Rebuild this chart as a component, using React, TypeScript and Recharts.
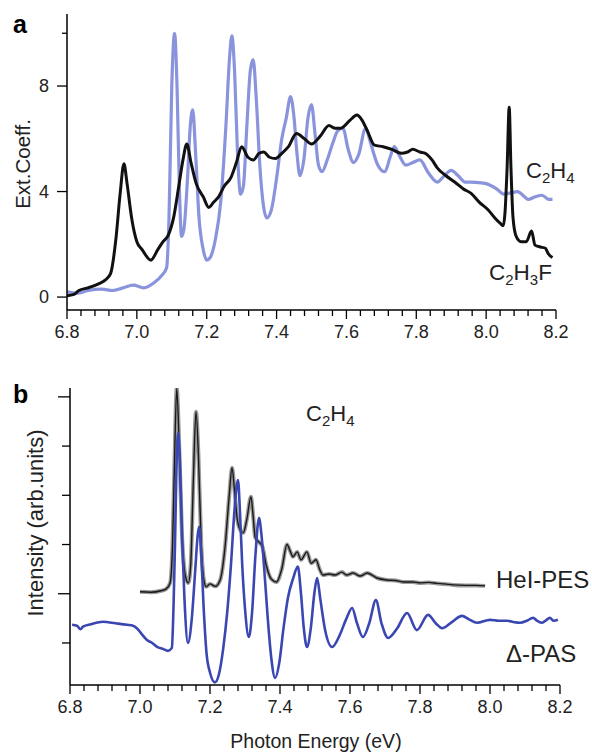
import React from 'react';
import { LineChart, Line, XAxis, YAxis } from 'recharts';

// ---------- Panel a: extinction coefficient ----------
const A_C2H4_E = [6.80, 6.83, 6.86, 6.90, 6.93, 6.96, 6.99, 7.02, 7.05, 7.07, 7.085, 7.092, 7.10, 7.108, 7.115, 7.122, 7.128, 7.135, 7.145, 7.153, 7.16, 7.168, 7.178, 7.19, 7.20, 7.21, 7.225, 7.24, 7.255, 7.265, 7.272, 7.28, 7.288, 7.297, 7.305, 7.315, 7.325, 7.333, 7.342, 7.352, 7.362, 7.372, 7.385, 7.40, 7.415, 7.428, 7.44, 7.45, 7.458, 7.467, 7.478, 7.49, 7.50, 7.51, 7.52, 7.53, 7.545, 7.56, 7.575, 7.59, 7.605, 7.62, 7.635, 7.655, 7.67, 7.69, 7.71, 7.725, 7.737, 7.75, 7.77, 7.79, 7.81, 7.835, 7.86, 7.88, 7.90, 7.92, 7.94, 7.97, 8.00, 8.03, 8.05, 8.07, 8.09, 8.11, 8.12, 8.14, 8.16, 8.18, 8.19];
const A_C2H4_V = [0.2, 0.15, 0.25, 0.3, 0.25, 0.35, 0.45, 0.35, 0.55, 0.8, 1.1, 3.0, 8.0, 10.0, 8.0, 4.0, 2.3, 2.6, 4.5, 6.5, 7.1, 5.5, 3.0, 1.8, 1.4, 1.5, 2.2, 3.6, 6.5, 9.0, 9.9, 8.5, 5.5, 3.9, 4.2, 6.5, 8.6, 9.0, 7.5, 5.0, 3.5, 3.0, 3.3, 4.5, 6.0, 6.8, 7.6, 6.8, 5.5, 4.6, 5.2, 6.8, 7.3, 6.2, 5.0, 4.75, 5.2, 5.8, 6.3, 6.4, 5.6, 5.1, 5.4, 6.4, 5.8, 5.0, 4.75, 5.3, 5.7, 5.4, 5.0, 5.1, 5.2, 4.7, 4.36, 4.6, 4.8, 4.6, 4.36, 4.35, 4.3, 4.1, 3.9, 3.95, 4.0, 3.8, 3.7, 3.8, 3.86, 3.7, 3.7];

const A_C2H3F_E = [6.80, 6.82, 6.834, 6.86, 6.89, 6.91, 6.925, 6.94, 6.952, 6.963, 6.972, 6.985, 7.00, 7.015, 7.04, 7.06, 7.075, 7.09, 7.105, 7.12, 7.132, 7.143, 7.155, 7.17, 7.19, 7.206, 7.22, 7.234, 7.25, 7.27, 7.285, 7.30, 7.318, 7.334, 7.35, 7.363, 7.38, 7.397, 7.415, 7.434, 7.457, 7.48, 7.50, 7.525, 7.55, 7.568, 7.583, 7.61, 7.63, 7.645, 7.66, 7.68, 7.705, 7.73, 7.757, 7.775, 7.79, 7.81, 7.826, 7.845, 7.86, 7.885, 7.91, 7.935, 7.957, 7.98, 8.006, 8.025, 8.04, 8.049, 8.054, 8.06, 8.066, 8.071, 8.077, 8.086, 8.10, 8.115, 8.13, 8.14, 8.155, 8.17, 8.177, 8.19];
const A_C2H3F_V = [0.05, 0.1, 0.25, 0.35, 0.5, 0.65, 0.9, 2.2, 3.9, 5.05, 4.3, 3.0, 2.1, 1.8, 1.4, 1.8, 2.1, 2.35, 3.0, 4.2, 5.2, 5.8, 5.1, 4.3, 3.8, 3.4, 3.6, 3.8, 4.2, 4.55, 5.1, 5.7, 5.3, 5.2, 5.45, 5.5, 5.3, 5.25, 5.45, 5.7, 6.2, 6.0, 5.8, 6.1, 6.5, 6.4, 6.4, 6.7, 6.9, 6.7, 6.3, 5.76, 5.7, 5.6, 5.45, 5.5, 5.6, 5.5, 5.45, 5.2, 4.9, 4.6, 4.36, 4.1, 3.93, 3.6, 3.3, 3.0, 2.8, 2.7, 3.2, 4.9, 7.2, 4.9, 3.0, 2.3, 2.1, 2.1, 2.5, 1.97, 1.9, 1.85, 1.66, 1.5];

// ---------- Panel b: intensity ----------
const B_PES_E = [7.00, 7.03, 7.06, 7.075, 7.086, 7.093, 7.098, 7.105, 7.112, 7.12, 7.13, 7.138, 7.145, 7.152, 7.16, 7.167, 7.175, 7.182, 7.189, 7.20, 7.215, 7.229, 7.243, 7.255, 7.263, 7.27, 7.277, 7.286, 7.295, 7.305, 7.317, 7.323, 7.329, 7.34, 7.35, 7.36, 7.375, 7.39, 7.405, 7.42, 7.43, 7.437, 7.449, 7.46, 7.477, 7.489, 7.503, 7.513, 7.523, 7.54, 7.557, 7.577, 7.59, 7.609, 7.629, 7.649, 7.677, 7.705, 7.73, 7.752, 7.78, 7.80, 7.825, 7.849, 7.87, 7.894, 7.93, 7.96, 7.986];
const B_PES_V = [1.04, 1.03, 1.06, 1.1, 1.22, 2.0, 3.5, 5.18, 4.0, 2.2, 1.35, 1.22, 1.6, 3.2, 4.7, 3.8, 2.0, 1.3, 1.14, 1.2, 1.15, 1.28, 1.95, 3.0, 3.56, 3.1, 2.56, 2.3, 2.24, 2.5, 2.97, 2.6, 2.15, 2.05, 1.95, 1.6, 1.3, 1.24, 1.5, 2.0, 1.85, 1.75, 1.85, 1.69, 1.85, 1.62, 1.69, 1.5, 1.38, 1.4, 1.38, 1.44, 1.38, 1.42, 1.36, 1.42, 1.32, 1.28, 1.27, 1.24, 1.24, 1.22, 1.23, 1.21, 1.2, 1.18, 1.17, 1.17, 1.16];

const B_PAS_E = [6.806, 6.82, 6.83, 6.837, 6.86, 6.894, 6.93, 6.963, 6.98, 6.991, 7.005, 7.02, 7.035, 7.049, 7.065, 7.08, 7.091, 7.096, 7.10, 7.104, 7.109, 7.115, 7.12, 7.127, 7.137, 7.148, 7.158, 7.165, 7.169, 7.175, 7.182, 7.19, 7.20, 7.214, 7.225, 7.238, 7.249, 7.26, 7.27, 7.28, 7.286, 7.292, 7.30, 7.311, 7.32, 7.33, 7.34, 7.347, 7.355, 7.365, 7.375, 7.386, 7.398, 7.41, 7.423, 7.437, 7.451, 7.46, 7.468, 7.477, 7.488, 7.498, 7.506, 7.515, 7.529, 7.549, 7.57, 7.59, 7.606, 7.62, 7.637, 7.655, 7.674, 7.69, 7.709, 7.735, 7.763, 7.791, 7.823, 7.845, 7.863, 7.89, 7.92, 7.94, 7.963, 8.00, 8.025, 8.049, 8.07, 8.086, 8.105, 8.123, 8.135, 8.149, 8.16, 8.171, 8.182, 8.194];
const B_PAS_V = [0.37, 0.35, 0.28, 0.33, 0.38, 0.43, 0.4, 0.37, 0.35, 0.3, 0.18, 0.06, 0.0, -0.08, -0.12, -0.16, -0.1, 0.8, 2.0, 3.5, 4.27, 3.5, 2.2, 0.9, 0.0, 0.5, 1.5, 2.2, 2.36, 1.8, 0.7, -0.2, -0.6, -0.8, -0.65, -0.1, 0.61, 1.6, 2.7, 3.31, 2.6, 1.6, 0.7, 0.12, 0.6, 1.8, 2.54, 2.2, 1.5, 0.5, -0.3, -0.71, -0.4, 0.3, 0.93, 1.3, 1.55, 1.0, 0.3, -0.08, 0.3, 1.0, 1.32, 0.9, 0.26, -0.08, 0.15, 0.5, 0.71, 0.4, 0.12, 0.4, 0.87, 0.4, 0.1, 0.3, 0.61, 0.26, 0.57, 0.4, 0.3, 0.42, 0.55, 0.48, 0.41, 0.47, 0.45, 0.45, 0.42, 0.41, 0.45, 0.51, 0.45, 0.41, 0.46, 0.51, 0.45, 0.47];

// ---------- ticks ----------
const X_TICKS = [6.8, 6.84, 6.88, 6.92, 6.96, 7.0, 7.04, 7.08, 7.12, 7.16, 7.2, 7.24, 7.28, 7.32, 7.36, 7.4, 7.44, 7.48, 7.52, 7.56, 7.6, 7.64, 7.68, 7.72, 7.76, 7.8, 7.84, 7.88, 7.92, 7.96, 8.0, 8.04, 8.08, 8.12, 8.16, 8.2];
const X_MAJOR = [6.8, 7.0, 7.2, 7.4, 7.6, 7.8, 8.0, 8.2];
const X_LABELS = ['6.8', '7.0', '7.2', '7.4', '7.6', '7.8', '8.0', '8.2'];
const A_Y_TICKS = [0, 4, 8, 10];
const A_Y_LABELS = ['0', '4', '8', ''];
const B_Y_TICKS = [0, 1, 2, 3, 4, 5];
const B_Y_LONG = [1, 5];

const FONT = '"Liberation Sans", Arial, Helvetica, sans-serif';

const pts = (xs: number[], ys: number[]) => xs.map((x, i) => ({ x, y: ys[i] }));

const majorIndex = (v: number) => X_MAJOR.findIndex((m) => Math.abs(m - v) < 1e-6);

const XTick = (props: any) => {
  const { x, y, payload } = props;
  const idx = majorIndex(payload.value);
  const major = idx >= 0;
  return (
    <g>
      <line x1={x} x2={x} y1={y} y2={y + (major ? 9 : 6)} stroke="#000" strokeWidth={1.3} />
      {major && (
        <text x={x} y={y + 28} textAnchor="middle" fontFamily={FONT} fontSize={18} fill="#222">
          {X_LABELS[idx]}
        </text>
      )}
    </g>
  );
};

const YTickA = (props: any) => {
  const { x, y, payload } = props;
  const idx = A_Y_TICKS.indexOf(payload.value);
  const label = A_Y_LABELS[idx];
  return (
    <g>
      <line x1={x} x2={x - (label ? 10 : 5)} y1={y} y2={y} stroke="#000" strokeWidth={1.3} />
      {label && (
        <text x={x - 18} y={y + 6} textAnchor="end" fontFamily={FONT} fontSize={18} fill="#222">
          {label}
        </text>
      )}
    </g>
  );
};

const YTickB = (props: any) => {
  const { x, y, payload } = props;
  const long = B_Y_LONG.indexOf(payload.value) >= 0;
  return <line x1={x} x2={x - (long ? 12 : 8)} y1={y} y2={y} stroke="#000" strokeWidth={1.3} />;
};

export default function App() {
  const aBlue = pts(A_C2H4_E, A_C2H4_V);
  const aBlack = pts(A_C2H3F_E, A_C2H3F_V);
  const bPes = pts(B_PES_E, B_PES_V);
  const bPas = pts(B_PAS_E, B_PAS_V);

  return (
    <div style={{ position: 'absolute', left: 0, top: 0, width: 592, height: 753, background: '#fff', overflow: 'hidden' }}>
      <div style={{ position: 'absolute', left: 0, top: 0 }}>
        <LineChart width={592} height={345} margin={{ top: 14, right: 36, left: 0, bottom: 0 }}>
          <XAxis
            dataKey="x"
            type="number"
            domain={[6.8, 8.2]}
            ticks={X_TICKS}
            interval={0}
            allowDataOverflow
            height={35}
            tickSize={0}
            tickMargin={0}
            tickLine={false}
            axisLine={{ stroke: '#000', strokeWidth: 1.5 }}
            tick={XTick}
          />
          <YAxis
            type="number"
            domain={[-0.49, 10.73]}
            ticks={A_Y_TICKS}
            interval={0}
            allowDataOverflow
            width={67}
            tickSize={0}
            tickMargin={0}
            tickLine={false}
            axisLine={{ stroke: '#000', strokeWidth: 1.5 }}
            tick={YTickA}
          />
          <Line data={aBlue} dataKey="y" type="monotone" stroke="#8a94dc" strokeWidth={3.2} dot={false} isAnimationActive={false} />
          <Line data={aBlack} dataKey="y" type="monotone" stroke="#111" strokeWidth={3} dot={false} isAnimationActive={false} />
        </LineChart>
      </div>
      <div style={{ position: 'absolute', left: 0, top: 350 }}>
        <LineChart width={592} height={403} margin={{ top: 38, right: 32, left: 0, bottom: 0 }}>
          <XAxis
            dataKey="x"
            type="number"
            domain={[6.8, 8.2]}
            ticks={X_TICKS}
            interval={0}
            allowDataOverflow
            height={68}
            tickSize={0}
            tickMargin={0}
            tickLine={false}
            axisLine={{ stroke: '#000', strokeWidth: 1.5 }}
            tick={XTick}
          />
          <YAxis
            type="number"
            domain={[-0.854, 5.18]}
            ticks={B_Y_TICKS}
            interval={0}
            allowDataOverflow
            width={70}
            tickSize={0}
            tickMargin={0}
            tickLine={false}
            axisLine={{ stroke: '#000', strokeWidth: 1.5 }}
            tick={YTickB}
          />
          <Line data={bPes} dataKey="y" type="monotone" stroke="#9a9a9a" strokeWidth={4} dot={false} isAnimationActive={false} />
          <Line data={bPes} dataKey="y" type="monotone" stroke="#1a1a1a" strokeWidth={1.4} dot={false} isAnimationActive={false} />
          <Line data={bPas} dataKey="y" type="monotone" stroke="#3a47b2" strokeWidth={2.6} dot={false} isAnimationActive={false} />
        </LineChart>
      </div>
      <svg width={592} height={753} style={{ position: 'absolute', left: 0, top: 0, pointerEvents: 'none' }}>
        <g fontFamily={FONT} fill="#222">
          <text x={13} y={33} fontSize={25} fontWeight="bold" fill="#000">a</text>
          <text x={13} y={403} fontSize={25} fontWeight="bold" fill="#000">b</text>
          <text transform="translate(30,164) rotate(-90)" textAnchor="middle" fontSize={20.5}>Ext.Coeff.</text>
          <text transform="translate(43,523) rotate(-90)" textAnchor="middle" fontSize={22}>Intensity (arb.units)</text>
          <text x={316} y={748} textAnchor="middle" fontSize={19.5}>Photon Energy (eV)</text>
          <text x={526} y={178} fontSize={22}>
            C<tspan fontSize={15} dy={5}>2</tspan><tspan dy={-5}>H</tspan><tspan fontSize={15} dy={5}>4</tspan>
          </text>
          <text x={489} y={280} fontSize={22.5}>
            C<tspan fontSize={15} dy={5}>2</tspan><tspan dy={-5}>H</tspan><tspan fontSize={15} dy={5}>3</tspan><tspan dy={-5}>F</tspan>
          </text>
          <text x={306} y={421} fontSize={22}>
            C<tspan fontSize={15} dy={5}>2</tspan><tspan dy={-5}>H</tspan><tspan fontSize={15} dy={5}>4</tspan>
          </text>
          <text x={496} y={588} fontSize={24}>HeI-PES</text>
          <text x={506} y={662} fontSize={24}>Δ-PAS</text>
        </g>
      </svg>
    </div>
  );
}
